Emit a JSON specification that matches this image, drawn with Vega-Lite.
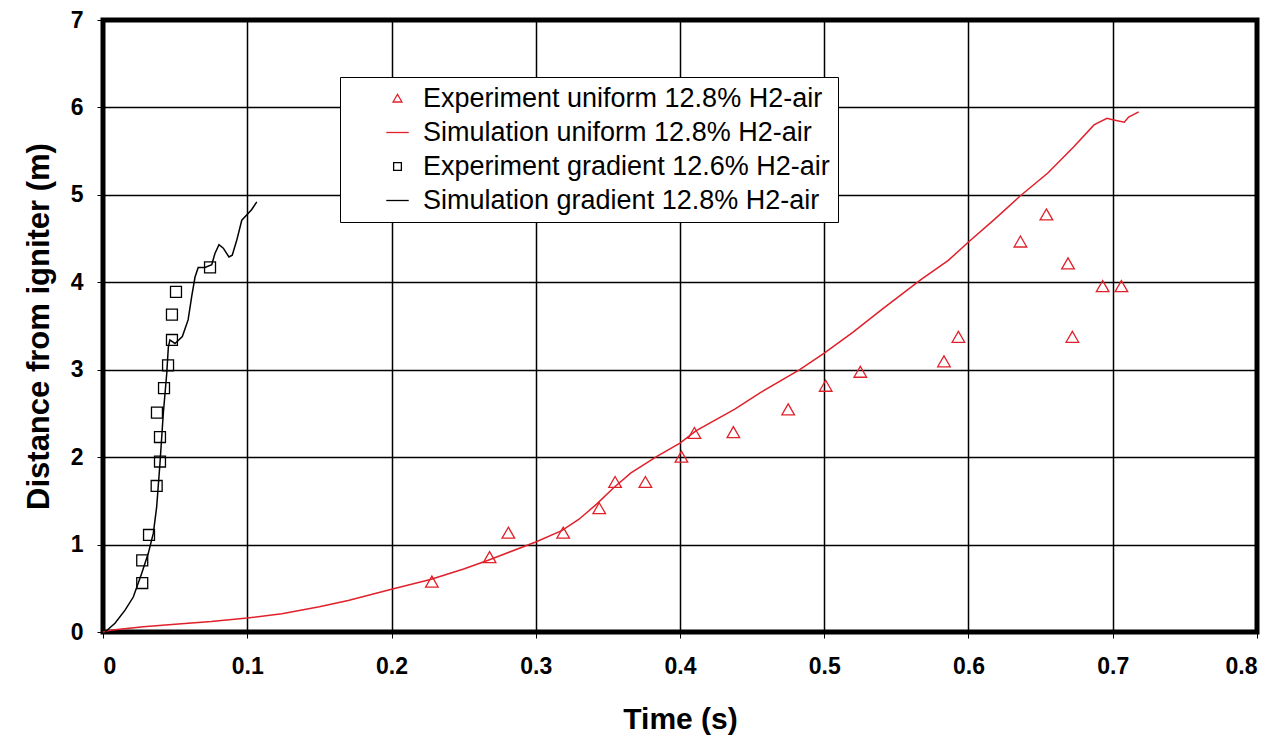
{
  "$schema": "https://vega.github.io/schema/vega-lite/v6.json",
  "width": 1154,
  "height": 612,
  "autosize": {"type": "none"},
  "padding": {"left": 103, "top": 20, "right": 23, "bottom": 107},
  "background": "white",
  "config": {
    "view": {"stroke": "black", "strokeWidth": 5},
    "font": "Liberation Sans"
  },
  "datasets": {
    "exp": [
      {"series": "Experiment uniform 12.8% H2-air", "t": 0.228, "d": 0.57},
      {"series": "Experiment uniform 12.8% H2-air", "t": 0.268, "d": 0.85},
      {"series": "Experiment uniform 12.8% H2-air", "t": 0.281, "d": 1.13},
      {"series": "Experiment uniform 12.8% H2-air", "t": 0.319, "d": 1.13},
      {"series": "Experiment uniform 12.8% H2-air", "t": 0.344, "d": 1.41},
      {"series": "Experiment uniform 12.8% H2-air", "t": 0.355, "d": 1.71},
      {"series": "Experiment uniform 12.8% H2-air", "t": 0.376, "d": 1.71},
      {"series": "Experiment uniform 12.8% H2-air", "t": 0.401, "d": 2.0},
      {"series": "Experiment uniform 12.8% H2-air", "t": 0.410, "d": 2.27},
      {"series": "Experiment uniform 12.8% H2-air", "t": 0.437, "d": 2.28},
      {"series": "Experiment uniform 12.8% H2-air", "t": 0.475, "d": 2.54},
      {"series": "Experiment uniform 12.8% H2-air", "t": 0.501, "d": 2.81},
      {"series": "Experiment uniform 12.8% H2-air", "t": 0.525, "d": 2.97},
      {"series": "Experiment uniform 12.8% H2-air", "t": 0.583, "d": 3.09},
      {"series": "Experiment uniform 12.8% H2-air", "t": 0.593, "d": 3.37},
      {"series": "Experiment uniform 12.8% H2-air", "t": 0.636, "d": 4.46},
      {"series": "Experiment uniform 12.8% H2-air", "t": 0.654, "d": 4.77},
      {"series": "Experiment uniform 12.8% H2-air", "t": 0.669, "d": 4.21},
      {"series": "Experiment uniform 12.8% H2-air", "t": 0.672, "d": 3.37},
      {"series": "Experiment uniform 12.8% H2-air", "t": 0.693, "d": 3.95},
      {"series": "Experiment uniform 12.8% H2-air", "t": 0.706, "d": 3.95},
      {"series": "Experiment gradient 12.6% H2-air", "t": 0.0272, "d": 0.56},
      {"series": "Experiment gradient 12.6% H2-air", "t": 0.0272, "d": 0.82},
      {"series": "Experiment gradient 12.6% H2-air", "t": 0.0319, "d": 1.11},
      {"series": "Experiment gradient 12.6% H2-air", "t": 0.0372, "d": 1.67},
      {"series": "Experiment gradient 12.6% H2-air", "t": 0.0395, "d": 1.95},
      {"series": "Experiment gradient 12.6% H2-air", "t": 0.0395, "d": 2.23},
      {"series": "Experiment gradient 12.6% H2-air", "t": 0.0374, "d": 2.51},
      {"series": "Experiment gradient 12.6% H2-air", "t": 0.0423, "d": 2.79},
      {"series": "Experiment gradient 12.6% H2-air", "t": 0.0451, "d": 3.05},
      {"series": "Experiment gradient 12.6% H2-air", "t": 0.0478, "d": 3.34},
      {"series": "Experiment gradient 12.6% H2-air", "t": 0.0478, "d": 3.63},
      {"series": "Experiment gradient 12.6% H2-air", "t": 0.0506, "d": 3.89},
      {"series": "Experiment gradient 12.6% H2-air", "t": 0.0742, "d": 4.17}
    ],
    "sim": [
      {"series": "Simulation uniform 12.8% H2-air", "t": 0.0, "d": 0.0},
      {"series": "Simulation uniform 12.8% H2-air", "t": 0.005, "d": 0.02},
      {"series": "Simulation uniform 12.8% H2-air", "t": 0.028, "d": 0.06},
      {"series": "Simulation uniform 12.8% H2-air", "t": 0.05, "d": 0.09},
      {"series": "Simulation uniform 12.8% H2-air", "t": 0.075, "d": 0.12},
      {"series": "Simulation uniform 12.8% H2-air", "t": 0.1, "d": 0.16},
      {"series": "Simulation uniform 12.8% H2-air", "t": 0.124, "d": 0.21},
      {"series": "Simulation uniform 12.8% H2-air", "t": 0.15, "d": 0.29},
      {"series": "Simulation uniform 12.8% H2-air", "t": 0.17, "d": 0.36},
      {"series": "Simulation uniform 12.8% H2-air", "t": 0.2, "d": 0.49},
      {"series": "Simulation uniform 12.8% H2-air", "t": 0.227, "d": 0.6},
      {"series": "Simulation uniform 12.8% H2-air", "t": 0.25, "d": 0.72},
      {"series": "Simulation uniform 12.8% H2-air", "t": 0.267, "d": 0.82},
      {"series": "Simulation uniform 12.8% H2-air", "t": 0.3, "d": 1.03},
      {"series": "Simulation uniform 12.8% H2-air", "t": 0.318, "d": 1.16},
      {"series": "Simulation uniform 12.8% H2-air", "t": 0.33, "d": 1.29},
      {"series": "Simulation uniform 12.8% H2-air", "t": 0.342, "d": 1.46},
      {"series": "Simulation uniform 12.8% H2-air", "t": 0.354, "d": 1.65},
      {"series": "Simulation uniform 12.8% H2-air", "t": 0.366, "d": 1.82},
      {"series": "Simulation uniform 12.8% H2-air", "t": 0.384, "d": 2.01},
      {"series": "Simulation uniform 12.8% H2-air", "t": 0.4, "d": 2.16},
      {"series": "Simulation uniform 12.8% H2-air", "t": 0.411, "d": 2.3},
      {"series": "Simulation uniform 12.8% H2-air", "t": 0.438, "d": 2.55},
      {"series": "Simulation uniform 12.8% H2-air", "t": 0.456, "d": 2.74},
      {"series": "Simulation uniform 12.8% H2-air", "t": 0.483, "d": 3.0},
      {"series": "Simulation uniform 12.8% H2-air", "t": 0.5, "d": 3.19},
      {"series": "Simulation uniform 12.8% H2-air", "t": 0.52, "d": 3.43},
      {"series": "Simulation uniform 12.8% H2-air", "t": 0.54, "d": 3.69},
      {"series": "Simulation uniform 12.8% H2-air", "t": 0.567, "d": 4.03},
      {"series": "Simulation uniform 12.8% H2-air", "t": 0.586, "d": 4.25},
      {"series": "Simulation uniform 12.8% H2-air", "t": 0.6, "d": 4.46},
      {"series": "Simulation uniform 12.8% H2-air", "t": 0.618, "d": 4.72},
      {"series": "Simulation uniform 12.8% H2-air", "t": 0.636, "d": 4.99},
      {"series": "Simulation uniform 12.8% H2-air", "t": 0.655, "d": 5.25},
      {"series": "Simulation uniform 12.8% H2-air", "t": 0.673, "d": 5.55},
      {"series": "Simulation uniform 12.8% H2-air", "t": 0.687, "d": 5.8},
      {"series": "Simulation uniform 12.8% H2-air", "t": 0.696, "d": 5.875},
      {"series": "Simulation uniform 12.8% H2-air", "t": 0.7, "d": 5.86},
      {"series": "Simulation uniform 12.8% H2-air", "t": 0.708, "d": 5.83},
      {"series": "Simulation uniform 12.8% H2-air", "t": 0.711, "d": 5.89},
      {"series": "Simulation uniform 12.8% H2-air", "t": 0.718, "d": 5.95},
      {"series": "Simulation gradient 12.8% H2-air", "t": 0.0014, "d": 0.0},
      {"series": "Simulation gradient 12.8% H2-air", "t": 0.0083, "d": 0.1},
      {"series": "Simulation gradient 12.8% H2-air", "t": 0.0153, "d": 0.25},
      {"series": "Simulation gradient 12.8% H2-air", "t": 0.021, "d": 0.4},
      {"series": "Simulation gradient 12.8% H2-air", "t": 0.0268, "d": 0.67},
      {"series": "Simulation gradient 12.8% H2-air", "t": 0.0314, "d": 0.9},
      {"series": "Simulation gradient 12.8% H2-air", "t": 0.0349, "d": 1.13},
      {"series": "Simulation gradient 12.8% H2-air", "t": 0.0372, "d": 1.43},
      {"series": "Simulation gradient 12.8% H2-air", "t": 0.0395, "d": 1.93},
      {"series": "Simulation gradient 12.8% H2-air", "t": 0.0418, "d": 2.5},
      {"series": "Simulation gradient 12.8% H2-air", "t": 0.0442, "d": 2.96},
      {"series": "Simulation gradient 12.8% H2-air", "t": 0.0453, "d": 3.26},
      {"series": "Simulation gradient 12.8% H2-air", "t": 0.0464, "d": 3.34},
      {"series": "Simulation gradient 12.8% H2-air", "t": 0.0499, "d": 3.3},
      {"series": "Simulation gradient 12.8% H2-air", "t": 0.055, "d": 3.38},
      {"series": "Simulation gradient 12.8% H2-air", "t": 0.059, "d": 3.57},
      {"series": "Simulation gradient 12.8% H2-air", "t": 0.0615, "d": 3.84},
      {"series": "Simulation gradient 12.8% H2-air", "t": 0.0638, "d": 4.06},
      {"series": "Simulation gradient 12.8% H2-air", "t": 0.066, "d": 4.17},
      {"series": "Simulation gradient 12.8% H2-air", "t": 0.0707, "d": 4.17},
      {"series": "Simulation gradient 12.8% H2-air", "t": 0.0754, "d": 4.2},
      {"series": "Simulation gradient 12.8% H2-air", "t": 0.0776, "d": 4.33},
      {"series": "Simulation gradient 12.8% H2-air", "t": 0.0804, "d": 4.43},
      {"series": "Simulation gradient 12.8% H2-air", "t": 0.0834, "d": 4.39},
      {"series": "Simulation gradient 12.8% H2-air", "t": 0.0873, "d": 4.29},
      {"series": "Simulation gradient 12.8% H2-air", "t": 0.0896, "d": 4.31},
      {"series": "Simulation gradient 12.8% H2-air", "t": 0.0927, "d": 4.48},
      {"series": "Simulation gradient 12.8% H2-air", "t": 0.0962, "d": 4.71},
      {"series": "Simulation gradient 12.8% H2-air", "t": 0.0996, "d": 4.77},
      {"series": "Simulation gradient 12.8% H2-air", "t": 0.103, "d": 4.83},
      {"series": "Simulation gradient 12.8% H2-air", "t": 0.1066, "d": 4.92}
    ]
  },
  "encoding": {
    "x": {
      "field": "t", "type": "quantitative",
      "scale": {"domain": [0, 0.8], "nice": false, "zero": false},
      "axis": {
        "title": "Time (s)",
        "values": [0, 0.1, 0.2, 0.3, 0.4, 0.5, 0.6, 0.7, 0.8],
        "format": "~g",
        "grid": true, "gridColor": "black", "gridWidth": 1.5, "gridOpacity": 1,
        "domain": false,
        "ticks": true, "tickColor": "black", "tickSize": 6, "tickWidth": 1,
        "labelFont": "Liberation Sans", "labelFontWeight": "bold", "labelFontSize": 23, "labelColor": "black",
        "labelPadding": 17,
        "titleFont": "Liberation Sans", "titleFontWeight": "bold", "titleFontSize": 30, "titleColor": "black",
        "titlePadding": 26
      }
    },
    "y": {
      "field": "d", "type": "quantitative",
      "scale": {"domain": [0, 7], "nice": false},
      "axis": {
        "title": "Distance from igniter (m)",
        "values": [0, 1, 2, 3, 4, 5, 6, 7],
        "grid": true, "gridColor": "black", "gridWidth": 1.5, "gridOpacity": 1,
        "domain": false,
        "ticks": true, "tickColor": "black", "tickSize": 6, "tickWidth": 1,
        "labelFont": "Liberation Sans", "labelFontWeight": "bold", "labelFontSize": 23, "labelColor": "black",
        "labelPadding": 14,
        "titleFont": "Liberation Sans", "titleFontWeight": "bold", "titleFontSize": 31, "titleColor": "black",
        "titlePadding": 15
      }
    },
    "color": {
      "field": "series", "type": "nominal",
      "scale": {
        "domain": ["Experiment uniform 12.8% H2-air", "Simulation uniform 12.8% H2-air", "Experiment gradient 12.6% H2-air", "Simulation gradient 12.8% H2-air"],
        "range": ["#e0202a", "#e0202a", "black", "black"]
      },
      "legend": {
        "title": null,
        "orient": "none",
        "legendX": 237,
        "legendY": 57,
        "padding": 8,
        "fillColor": "white",
        "strokeColor": "black",
        "cornerRadius": 0,
        "labelFont": "Liberation Sans",
        "labelFontSize": 27,
        "labelColor": "black",
        "labelLimit": 700,
        "rowPadding": 6,
        "symbolSize": 60,
        "symbolOffset": 36,
        "labelOffset": 12,
        "symbolStrokeWidth": 1.3
      }
    }
  },
  "layer": [
    {
      "data": {"name": "sim"},
      "mark": {"type": "line", "strokeWidth": 1.5, "interpolate": "linear"},
      "encoding": {
        "order": {"field": "t", "type": "quantitative"}
      }
    },
    {
      "data": {"name": "exp"},
      "mark": {"type": "point", "filled": false, "strokeWidth": 1.3, "opacity": 1, "size": 120},
      "encoding": {
        "shape": {
          "field": "series", "type": "nominal",
          "scale": {
            "domain": ["Experiment uniform 12.8% H2-air", "Simulation uniform 12.8% H2-air", "Experiment gradient 12.6% H2-air", "Simulation gradient 12.8% H2-air"],
            "range": ["M0,-1.1L1.15,0.9L-1.15,0.9Z", "M-2.9,0H2.9", "square", "M-2.9,0H2.9"]
          }
        }
      }
    }
  ]
}
